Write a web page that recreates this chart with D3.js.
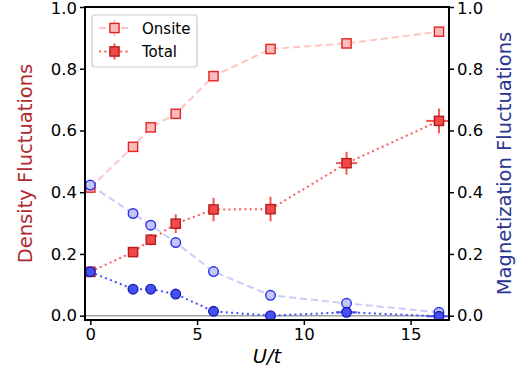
<!DOCTYPE html>
<html>
<head>
<meta charset="utf-8">
<script src="https://cdn.jsdelivr.net/npm/d3@7"></script>
<style>
  body { margin: 0; background: #fff; }
  svg { font-family: "DejaVu Sans", sans-serif; }
</style>
</head>
<body>
<div id="chart"></div>
<script>
// values
var uVals        = [0, 2, 2.83, 4, 5.77, 8.44, 12, 16.33];
var uErr         = [0, 0, 0, 0, 0, 0, 0.5, 0.6];
var densOnsite   = [0.415, 0.547, 0.610, 0.654, 0.776, 0.864, 0.882, 0.920];
var densTotal    = [0.142, 0.206, 0.246, 0.298, 0.344, 0.345, 0.494, 0.631];
var densTotalErr = [0.012, 0.015, 0.018, 0.030, 0.038, 0.040, 0.037, 0.040];
var magOnsite    = [0.423, 0.331, 0.293, 0.237, 0.143, 0.066, 0.040, 0.011];
var magTotal     = [0.142, 0.086, 0.086, 0.070, 0.014, 0.000, 0.011, -0.002];
var magTotalErr  = [0.010, 0.012, 0.010, 0.012, 0.005, 0.004, 0.005, 0.005];
var yTicks = [0, 0.2, 0.4, 0.6, 0.8, 1.0];
var xTicks = [0, 5, 10, 15];
var legendLabels = ["Onsite", "Total"];

var W = 531, H = 371;
var m = {top: 7, right: 82, bottom: 51, left: 85};

var x = d3.scaleLinear().domain([-0.25, 16.8]).range([m.left, W - m.right]);
var y = d3.scaleLinear().domain([-0.014, 1.0]).range([H - m.bottom, m.top]);

var svg = d3.select("#chart").append("svg")
  .attr("width", W)
  .attr("height", H);

svg.append("clipPath").attr("id", "clip")
  .append("rect")
  .attr("x", m.left).attr("y", m.top)
  .attr("width", W - m.left - m.right)
  .attr("height", H - m.top - m.bottom);

var plot = svg.append("g").attr("clip-path", "url(#clip)");

// zero line
plot.append("line")
  .attr("x1", m.left).attr("x2", W - m.right)
  .attr("y1", y(0)).attr("y2", y(0))
  .attr("stroke", "#a0a0a0").attr("stroke-width", 1.5);

function rows(vals, errs) {
  return uVals.map(function(u, i) {
    return {u: u, v: vals[i], e: errs ? errs[i] : 0, ue: uErr[i]};
  });
}

var series = [
  {rows: rows(densOnsite), line: "#ffc4c4", dash: "7,4", width: 2, shape: "square", fill: "#f8bcbc", edge: "#e8231f"},
  {rows: rows(magOnsite), line: "#c9ccfb", dash: "7,4", width: 2, shape: "circle", fill: "#c3c7f7", edge: "#2530ee"},
  {rows: rows(densTotal, densTotalErr), line: "#ff5a5a", dash: "2,3.3", width: 2, shape: "square", fill: "#f24848", edge: "#b81c1c", err: "#f75454", hasErr: true},
  {rows: rows(magTotal, magTotalErr), line: "#4a50ff", dash: "2,3.3", width: 2, shape: "circle", fill: "#4650f0", edge: "#1d1db5", err: "#4b55ee", hasErr: true}
];

var line = d3.line().x(function(d) { return x(d.u); }).y(function(d) { return y(d.v); });

series.forEach(function(s) {
  plot.append("path")
    .datum(s.rows)
    .attr("d", line)
    .attr("fill", "none")
    .attr("stroke", s.line)
    .attr("stroke-width", s.width)
    .attr("stroke-dasharray", s.dash);
});

function drawMarker(g, shape, cx, cy, fill, edge) {
  if (shape === "square") {
    g.append("rect")
      .attr("x", cx - 4.6).attr("y", cy - 4.6)
      .attr("width", 9.2).attr("height", 9.2)
      .attr("fill", fill).attr("stroke", edge).attr("stroke-width", 1.4);
  } else {
    g.append("circle")
      .attr("cx", cx).attr("cy", cy).attr("r", 4.8)
      .attr("fill", fill).attr("stroke", edge).attr("stroke-width", 1.4);
  }
}

series.forEach(function(s) {
  if (!s.hasErr) return;
  var eg = plot.append("g");
  s.rows.forEach(function(d) {
    eg.append("line")
      .attr("x1", x(d.u)).attr("x2", x(d.u))
      .attr("y1", y(d.v - d.e)).attr("y2", y(d.v + d.e))
      .attr("stroke", s.err).attr("stroke-width", 2);
    if (d.ue > 0) {
      eg.append("line")
        .attr("x1", x(d.u - d.ue)).attr("x2", x(d.u + d.ue))
        .attr("y1", y(d.v)).attr("y2", y(d.v))
        .attr("stroke", s.err).attr("stroke-width", 2);
    }
  });
});

series.forEach(function(s) {
  var mg = plot.append("g");
  s.rows.forEach(function(d) {
    drawMarker(mg, s.shape, x(d.u), y(d.v), s.fill, s.edge);
  });
});

// axes
var axL = d3.axisLeft(y).tickValues(yTicks).tickFormat(d3.format(".1f")).tickSize(5).tickPadding(3);
var axR = d3.axisRight(y).tickValues(yTicks).tickFormat(d3.format(".1f")).tickSize(5).tickPadding(3);
var axB = d3.axisBottom(x).tickValues(xTicks).tickFormat(d3.format("d")).tickSize(5).tickPadding(3);

function style(g) {
  g.select(".domain").remove();
  g.selectAll(".tick line").attr("stroke", "#000").attr("stroke-width", 1.5);
  g.selectAll(".tick text").attr("font-size", 16.5).attr("fill", "#000")
    .attr("font-family", "DejaVu Sans");
}

svg.append("g").attr("transform", "translate(" + m.left + ",0)").call(axL).call(style);
svg.append("g").attr("transform", "translate(" + (W - m.right) + ",0)").call(axR).call(style);
svg.append("g").attr("transform", "translate(0," + (H - m.bottom) + ")").call(axB).call(style);

// keep the top "1.0" labels inside the picture
svg.selectAll(".tick text").filter(function(d) { return d === 1.0; }).attr("dy", "0.42em");

// frame
svg.append("rect")
  .attr("x", m.left).attr("y", m.top)
  .attr("width", W - m.left - m.right)
  .attr("height", H - m.top - m.bottom)
  .attr("fill", "none").attr("stroke", "#000").attr("stroke-width", 2);

// axis titles
svg.append("text")
  .attr("transform", "translate(32," + ((m.top + H - m.bottom) / 2) + ") rotate(-90)")
  .attr("text-anchor", "middle")
  .attr("font-size", 19.5)
  .attr("fill", "#b02a30")
  .text("Density Fluctuations");

svg.append("text")
  .attr("transform", "translate(511," + ((m.top + H - m.bottom) / 2) + ") rotate(-90)")
  .attr("text-anchor", "middle")
  .attr("font-size", 19.5)
  .attr("fill", "#2b3592")
  .text("Magnetization Fluctuations");

svg.append("text")
  .attr("x", (m.left + W - m.right) / 2)
  .attr("y", 363)
  .attr("text-anchor", "middle")
  .attr("font-size", 19.5)
  .attr("font-style", "italic")
  .attr("fill", "#000")
  .text("U/t");

// legend
var lg = svg.append("g");
lg.append("rect")
  .attr("x", 92).attr("y", 15)
  .attr("width", 105).attr("height", 52)
  .attr("rx", 3)
  .attr("fill", "#fff").attr("fill-opacity", 0.85)
  .attr("stroke", "#cccccc").attr("stroke-width", 1.2);

[series[0], series[2]].forEach(function(s, i) {
  var ly = 28 + i * 23.5;
  lg.append("line")
    .attr("x1", 99).attr("x2", 130)
    .attr("y1", ly).attr("y2", ly)
    .attr("stroke", s.line).attr("stroke-width", 2)
    .attr("stroke-dasharray", s.dash);
  var ec = s.hasErr ? s.err : s.line;
  lg.append("line")
    .attr("x1", 114.5).attr("x2", 114.5)
    .attr("y1", ly - 8).attr("y2", ly + 8)
    .attr("stroke", ec).attr("stroke-width", 2);
  drawMarker(lg, s.shape, 114.5, ly, s.fill, s.edge);
  lg.append("text")
    .attr("x", 142).attr("y", ly + 5.5)
    .attr("font-size", 15)
    .attr("fill", "#000")
    .text(legendLabels[i]);
});
</script>
</body>
</html>
